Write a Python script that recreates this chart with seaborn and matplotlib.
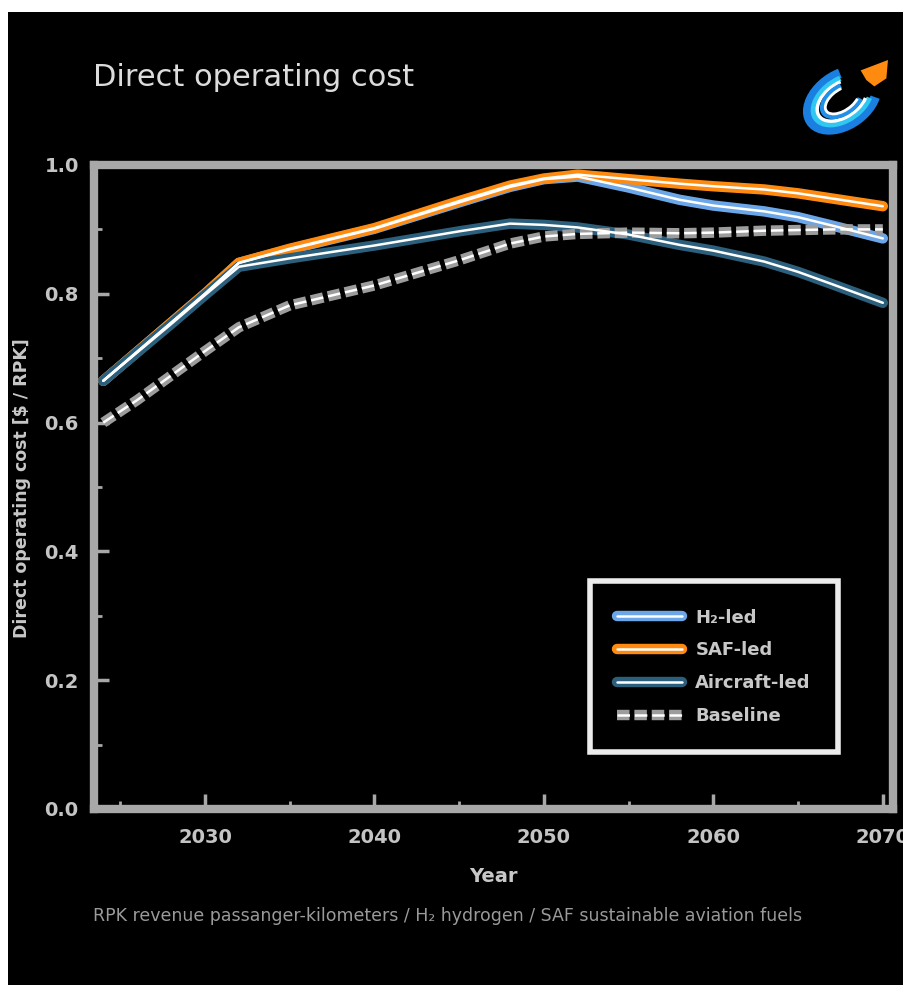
import matplotlib
matplotlib.use("Agg")
import matplotlib.pyplot as plt
import seaborn as sns
import pandas as pd
from matplotlib.lines import Line2D
from matplotlib.patches import Rectangle, Arc, Polygon
from matplotlib.ticker import MultipleLocator

# ---------------- data ----------------
years = [2024, 2026, 2028, 2030, 2032, 2035, 2040, 2045, 2048, 2050,
         2052, 2055, 2058, 2060, 2063, 2065, 2067, 2070]
h2_led = [0.665, 0.710, 0.755, 0.800, 0.848, 0.869, 0.901, 0.942, 0.966, 0.978,
          0.982, 0.965, 0.946, 0.937, 0.928, 0.919, 0.906, 0.886]
saf_led = [0.665, 0.710, 0.755, 0.800, 0.848, 0.870, 0.902, 0.944, 0.968, 0.979,
           0.985, 0.978, 0.971, 0.967, 0.962, 0.956, 0.948, 0.936]
aircraft_led = [0.665, 0.709, 0.753, 0.798, 0.842, 0.855, 0.875, 0.897, 0.909, 0.907,
                0.903, 0.892, 0.876, 0.867, 0.850, 0.834, 0.815, 0.786]
baseline = [0.600, 0.635, 0.673, 0.711, 0.748, 0.782, 0.813, 0.852, 0.878, 0.889,
            0.893, 0.895, 0.894, 0.895, 0.898, 0.899, 0.900, 0.900]

scenarios = ["H₂-led", "SAF-led", "Aircraft-led", "Baseline"]
series = [h2_led, saf_led, aircraft_led, baseline]
colors = ["#6aa6e8", "#ff8a10", "#2b5f7c", "#9c9c9c"]

x_ticks = [2030, 2040, 2050, 2060, 2070]
y_ticks = [0.0, 0.2, 0.4, 0.6, 0.8, 1.0]

title = "Direct operating cost"
x_label = "Year"
y_label = "Direct operating cost [$ / RPK]"
footnote = "RPK revenue passanger-kilometers / H₂ hydrogen / SAF sustainable aviation fuels"

df = pd.DataFrame({
    "year": years * len(scenarios),
    "cost": sum(series, []),
    "scenario": [s for s in scenarios for _ in years],
})

# ---------------- style ----------------
sns.set_theme(style="ticks")
plt.rcParams["font.family"] = ["DejaVu Sans"]
plt.rcParams["lines.scale_dashes"] = False

W, H = 904, 998
fig = plt.figure(figsize=(W / 100, H / 100), dpi=100, facecolor="white")
fig.patches.append(Rectangle((8 / W, 1 - 985 / H), (W - 8) / W, (985 - 12) / H,
                             transform=fig.transFigure, facecolor="black",
                             edgecolor="none", zorder=-10))

ax = fig.add_axes([94 / W, 1 - 809 / H, (893 - 94) / W, (809 - 165) / H])
ax.set_facecolor("black")

dash_map = {s: "" for s in scenarios}
dash_map["Baseline"] = (9, 3.5)

for name, col in zip(scenarios, colors):
    sub = df[df["scenario"] == name]
    sns.lineplot(data=sub, x="year", y="cost", hue="scenario", style="scenario",
                 palette={name: col}, dashes={name: dash_map[name]},
                 linewidth=7.5, ax=ax, legend=False, sort=False, zorder=3)
    sns.lineplot(data=sub, x="year", y="cost", hue="scenario", style="scenario",
                 palette={name: "white"}, dashes={name: dash_map[name]},
                 linewidth=1.8, ax=ax, legend=False, sort=False, zorder=4)

ax.axhline(0.0, color="#e6d000", lw=1.5, zorder=2)
ax.axhline(0.004, color="#5050b0", lw=1.2, zorder=2)
ax.axhline(1.0, color="#5050b0", lw=1.0, zorder=2)

ax.set_xlim(2023.45, 2070.6)
ax.set_ylim(0, 1.0)
ax.set_xticks(x_ticks)
ax.set_yticks(y_ticks)
ax.set_yticklabels([f"{v:.1f}" for v in y_ticks])
ax.xaxis.set_minor_locator(MultipleLocator(5))
ax.yaxis.set_minor_locator(MultipleLocator(0.1))

spine_col = "#a8a8a8"
for sp in ax.spines.values():
    sp.set_color(spine_col)
    sp.set_linewidth(6)
    sp.set_visible(True)

ax.tick_params(axis="both", which="major", direction="in", length=11, width=2.5,
               color=spine_col, labelcolor="#c4c4c4", labelsize=14, pad=11)
ax.tick_params(axis="x", which="major", pad=14)
ax.tick_params(axis="both", which="minor", direction="in", length=6, width=2,
               color=spine_col)
for lab in ax.get_xticklabels() + ax.get_yticklabels():
    lab.set_fontweight("bold")

ax.set_xlabel(x_label, color="#c8c8c8", fontsize=14, fontweight="bold", labelpad=14)
ax.set_ylabel("")
fig.text(22 / W, 1 - 488 / H, y_label, rotation=90, ha="center", va="center",
         color="#c8c8c8", fontsize=12.5, fontweight="bold")

fig.text(93 / W, 1 - 78 / H, title, ha="left", va="center", color="#dcdcdc",
         fontsize=22)
fig.text(93 / W, 1 - 916 / H, footnote, ha="left", va="center", color="#9a9a9a",
         fontsize=12.5)

# ---------------- legend ----------------
handles = []
for name, col in zip(scenarios, colors):
    ls = (0, (9, 3.5)) if name == "Baseline" else "-"
    h1 = Line2D([], [], color=col, lw=7.5, linestyle=ls)
    h2 = Line2D([], [], color="white", lw=1.8, linestyle=ls)
    handles.append((h1, h2))
leg = ax.legend(handles, scenarios, loc="lower right", bbox_to_anchor=(0.931, 0.0885),
                frameon=True, fontsize=13, handlelength=3.6, handletextpad=0.75,
                labelspacing=0.82, borderpad=1.5, borderaxespad=0, fancybox=False)
frame = leg.get_frame()
frame.set_facecolor("black")
frame.set_edgecolor("#ececec")
frame.set_linewidth(4)
frame.set_alpha(1)
for t in leg.get_texts():
    t.set_color("#c8c8c8")
    t.set_fontweight("bold")

# ---------------- small logo ----------------
lax = fig.add_axes([798 / W, 1 - 136 / H, 94 / W, 80 / H])
lax.set_xlim(0, 1.17)
lax.set_ylim(0, 1)
lax.axis("off")
for (w, h, c, lw) in [(0.95, 0.62, "#1a7fe0", 7), (0.80, 0.50, "#30c8f0", 4),
                      (0.70, 0.42, "white", 2.5), (0.55, 0.32, "#2090e8", 4),
                      (0.48, 0.26, "white", 2)]:
    lax.add_patch(Arc((0.55, 0.45), w, h, angle=35, theta1=60, theta2=330,
                      color=c, lw=lw))
lax.add_patch(Polygon([[0.78, 0.82], [1.12, 0.95], [1.1, 0.72], [0.95, 0.62], [0.85, 0.7]],
                      closed=True, facecolor="#ff8a10", edgecolor="none"))

fig.savefig("out.png", dpi=100, facecolor=fig.get_facecolor())
